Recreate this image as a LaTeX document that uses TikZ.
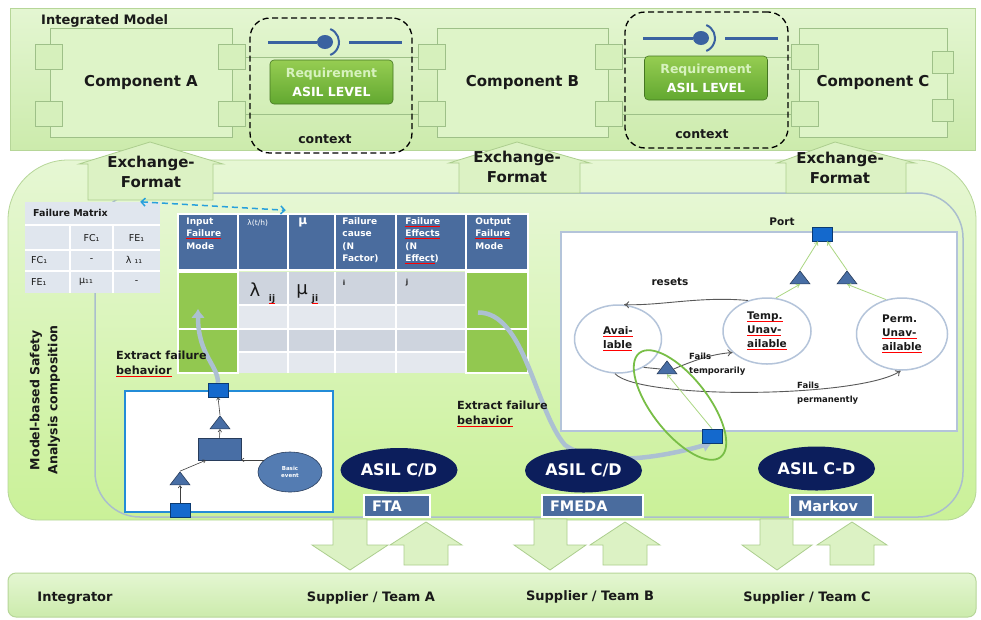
\documentclass[tikz,border=0pt]{standalone}
\usepackage{fontspec}
\setmainfont{DejaVu Sans}
\usetikzlibrary{shapes.geometric,arrows.meta}
\definecolor{txt}{RGB}{25,25,25}
\definecolor{bandA}{RGB}{228,246,210}
\definecolor{bandB}{RGB}{204,235,172}
\definecolor{bandline}{RGB}{182,214,152}
\definecolor{compc}{RGB}{222,244,200}
\definecolor{portc}{RGB}{214,240,188}
\definecolor{portl}{RGB}{158,192,136}
\definecolor{midA}{RGB}{230,247,212}
\definecolor{midB}{RGB}{202,241,152}
\definecolor{inl}{RGB}{170,190,205}
\definecolor{lolli}{RGB}{58,98,160}
\definecolor{reqA}{RGB}{150,205,82}
\definecolor{reqB}{RGB}{98,168,48}
\definecolor{reqT}{RGB}{215,242,190}
\definecolor{xarrc}{RGB}{220,242,196}
\definecolor{xarl}{RGB}{172,206,142}
\definecolor{fmc}{RGB}{224,230,238}
\definecolor{hdr}{RGB}{74,108,158}
\definecolor{cellD}{RGB}{206,212,222}
\definecolor{cellL}{RGB}{228,232,238}
\definecolor{cellG}{RGB}{146,200,80}
\definecolor{dashc}{RGB}{40,160,220}
\definecolor{navy}{RGB}{12,30,92}
\definecolor{sqb}{RGB}{20,105,205}
\definecolor{trifill}{RGB}{72,110,165}
\definecolor{bev}{RGB}{84,124,178}
\definecolor{ftab}{RGB}{35,140,215}
\definecolor{mkl}{RGB}{180,196,218}
\definecolor{lgrn}{RGB}{170,215,130}
\definecolor{ogrn}{RGB}{120,190,70}
\definecolor{thkc}{RGB}{172,192,210}
\newcommand\fsz[2]{\fontsize{#1}{#2}\selectfont}
\newcommand\sqw[1]{\setbox0\hbox{#1}\rlap{\textcolor{red}{\rule[-2.2pt]{\wd0}{.6pt}}}\box0}
\begin{document}
\begin{tikzpicture}[x=1pt,y=-1pt,every node/.style={inner sep=0pt,text=txt},
band/.style={top color=bandA,bottom color=bandB,draw=bandline,line width=1},
comp/.style={fill=compc,draw=portl,line width=.8,font=\bfseries\fsz{15}{18}},
port/.style={fill=portc,draw=portl,line width=.8,minimum width=27,minimum height=25},
pline/.style={draw=portl,line width=.8},
ctx/.style={draw=black,line width=1.3,dash pattern=on 6pt off 3.5pt,rounded corners=20},
lol/.style={draw=lolli,line width=3},
req/.style={rounded corners=4,top color=reqA,bottom color=reqB,draw=reqB!70!black,line width=.6,minimum width=123,minimum height=44,align=center,text=white,font=\bfseries\fsz{12.5}{19}},
xarr/.style={fill=xarrc,draw=xarl,line width=.8},
xt/.style={align=center,font=\bfseries\fsz{15}{20}},
fmt/.style={font=\fsz{9.5}{11}},
dsh/.style={draw=dashc,line width=1.5,dash pattern=on 6pt off 4pt,{Straight Barb[length=4pt,width=8pt]}-{Straight Barb[length=4pt,width=8pt]}},
hd/.style={fill=hdr,draw=white,line width=1.5,minimum height=56},
ht/.style={anchor=north west,align=left,text=white,font=\bfseries\fsz{9}{12.5}},
gc/.style={fill=cellG,draw=white,line width=1.5},
tri/.style={isosceles triangle,isosceles triangle stretches,shape border rotate=90,minimum width=20,minimum height=13,fill=trifill,draw=trifill!55!black,line width=.6},
sq/.style={fill=sqb,draw=sqb!55!black,line width=.6,minimum width=20,minimum height=14},
fa/.style={draw=black!75,line width=.6,-{To[length=3pt,width=4pt]}},
st/.style={ellipse,draw=mkl,line width=1.5,fill=white,align=left,font=\bfseries\fsz{10.5}{14}},
garr/.style={draw=lgrn,line width=.8,-{To[length=4pt,width=5pt]}},
darr/.style={draw=black!65,line width=.9,-{To[length=5pt,width=7pt]}},
mk/.style={font=\bfseries\fsz{10.5}{14}},
sm/.style={anchor=west,align=left,font=\bfseries\fsz{8.5}{14}},
grayarr/.style={draw=thkc,line width=4.5,-{Latex[length=9pt,width=14pt]}},
asil/.style={ellipse,fill=navy,text=white,minimum width=117,minimum height=44,font=\bfseries\fsz{16}{18}},
meth/.style={fill=hdr,draw=white,line width=1.5,minimum height=22,text=white,align=left,font=\bfseries\fsz{14.5}{16}},
bt/.style={font=\bfseries\fsz{13}{15}},
ext/.style={anchor=north west,align=left,font=\bfseries\fsz{11.2}{15}}]
\useasboundingbox(0,0)rectangle(981,619);
\fill[white](0,0)rectangle(981,619);
\draw[band,rounded corners=8](8,573)rectangle(976,617);
\path[top color=midA,bottom color=midB,draw=bandline,line width=.8](8,300)[rounded corners=60]--(8,160)--(976,160)--(976,400)[rounded corners=30]--(976,520)--(8,520)--cycle;
\path[top color=midA,bottom color=midB,draw=inl,line width=1.5,rounded corners=45](95,193)rectangle(963,517);
\draw[band](10,8)rectangle(975,150);
\node[anchor=west,font=\bfseries\fsz{13}{15}](im)at(41,21){Integrated Model};
\node[comp,minimum width=182,minimum height=109](compA)at(141,82.5){Component A};
\node[comp,minimum width=171,minimum height=109](compB)at(522.5,82.5){Component B};
\node[comp,minimum width=148,minimum height=109](compC)at(873,82.5){Component C};
\node[port](pa1)at(49,57){};
\node[port](pa2)at(49,114){};
\node[port](pa3)at(232,57){};
\node[port](pa4)at(232,114){};
\node[port](pb1)at(432,57){};
\node[port](pb2)at(432,114){};
\node[port](pb3)at(609,57){};
\node[port](pb4)at(609,114){};
\node[port](pc1)at(805,57){};
\node[port](pc2)at(805,114){};
\node[port,minimum width=21,minimum height=22](pc3)at(943,62){};
\node[port,minimum width=21,minimum height=22](pc4)at(943,110){};
\draw[pline](pa3)--(pb1)(pa4)--(pb2)(pb3)--(pc1)(pb4)--(pc2);
\node[ctx,minimum width=162,minimum height=135](ctx1)at(331,85.5){};
\node[ctx,minimum width=163,minimum height=136](ctx2)at(706.5,80){};
\node[font=\bfseries\fsz{12.5}{14}](cx1)at(325,139){context};
\node[font=\bfseries\fsz{12.5}{14}](cx2)at(702,134){context};
\node[ellipse,fill=lolli,minimum width=16,minimum height=14](lc1)at(325,42){};
\draw[lol](268,42)--(lc1);
\draw[lol]([xshift=16]lc1.east)--(402,42);
\draw[lol,line width=2](lc1.center)++(-68:14)arc[start angle=-68,end angle=68,radius=14];
\node[ellipse,fill=lolli,minimum width=16,minimum height=14](lc2)at(701,38){};
\draw[lol](643,38)--(lc2);
\draw[lol]([xshift=16]lc2.east)--(778,38);
\draw[lol,line width=2](lc2.center)++(-68:14)arc[start angle=-68,end angle=68,radius=14];
\node[req](rq1)at(331.5,82){\textcolor{reqT}{Requirement}\\ASIL LEVEL};
\node[req](rq2)at(706,78){\textcolor{reqT}{Requirement}\\ASIL LEVEL};
\draw[xarr](150,142)--(223,164)--(213,164)--(213,200)--(88,200)--(88,164)--(79,164)--cycle;
\node[xt](ex1)at(151,172){Exchange-\\Format};
\draw[xarr](517,142)--(590,163)--(580,163)--(580,193)--(459,193)--(459,163)--(449,163)--cycle;
\node[xt](ex2)at(517,167){Exchange-\\Format};
\draw[xarr](835,142)--(915,163)--(906,163)--(906,193)--(786,193)--(786,163)--(777,163)--cycle;
\node[xt](ex3)at(840,168){Exchange-\\Format};
\node[fill=fmc,minimum width=135,minimum height=91](fm)at(92.5,247.5){};
\draw[white,line width=1.5](25,225)--(160,225)(25,250)--(160,250)(25,271)--(160,271)(70,225)--(70,293)(113,225)--(113,293);
\node[anchor=west,font=\bfseries\fsz{9.5}{11}](fmh)at(33,213){Failure Matrix};
\node[fmt](fc0)at(91.5,238){FC₁};
\node[fmt](fe0)at(136.5,238){FE₁};
\node[fmt,anchor=west](fc1)at(31,260){FC₁};
\node[fmt](d1)at(91.5,260){-};
\node[fmt](l11)at(134,260){λ ₁₁};
\node[fmt,anchor=west](fe1)at(31,282){FE₁};
\node[fmt](m11)at(86,282){μ₁₁};
\node[fmt](d2)at(136.5,282){-};
\node[hd,minimum width=60](h1)at(208,242){};
\node[hd,minimum width=50](h2)at(263,242){};
\node[hd,minimum width=47](h3)at(311.5,242){};
\node[hd,minimum width=61](h4)at(365.5,242){};
\node[hd,minimum width=70](h5)at(431,242){};
\node[hd,minimum width=62](h6)at(497,242){};
\node[ht](t1)at([xshift=9,yshift=-4]h1.north west){Input\\\sqw{Failure}\\Mode};
\node[ht,font=\fsz{7.5}{9}](t2)at([xshift=10,yshift=-6]h2.north west){λ(t/h)};
\node[ht,font=\bfseries\fsz{12}{14}](t3)at([xshift=11,yshift=-4]h3.north west){μ};
\node[ht](t4)at([xshift=8,yshift=-4]h4.north west){Failure\\cause\\(N\\Factor)};
\node[ht](t5)at([xshift=10,yshift=-4]h5.north west){\sqw{Failure}\\\sqw{Effects}\\(N\\\sqw{Effect})};
\node[ht](t6)at([xshift=10,yshift=-4]h6.north west){Output\\\sqw{Failure}\\Mode};
\draw[dsh]([xshift=-20]fm.north east)--([xshift=-3,yshift=3]h2.north east);
\fill[cellD](238,272)rectangle(466,305);
\fill[cellL](238,305)rectangle(466,329);
\fill[cellD](238,329)rectangle(466,352);
\fill[cellL](238,352)rectangle(466,373);
\draw[white,line width=1.5](288,272)--(288,373)(335,272)--(335,373)(396,272)--(396,373)(238,305)--(466,305)(238,329)--(466,329)(238,352)--(466,352);
\node[gc,minimum width=60,minimum height=57](in1)at(208,300.5){};
\node[gc,minimum width=60,minimum height=44](in2)at(208,351){};
\node[gc,minimum width=62,minimum height=57](out1)at(497,300.5){};
\node[gc,minimum width=62,minimum height=44](out2)at(497,351){};
\node[font=\fsz{18}{18}](lam)at(255,290){λ};
\node[font=\bfseries\fsz{9}{9}](lamij)at(272,299){\sqw{ij}};
\node[font=\fsz{18}{18}](mu)at(302,291){μ};
\node[font=\bfseries\fsz{9}{9}](muji)at(315,299){\sqw{ji}};
\node[font=\bfseries\fsz{7}{7}](ci)at(344,283){i};
\node[font=\bfseries\fsz{7}{7}](cj)at(407,283){j};
\draw[fill=white,draw=ftab,line width=1.8](125,391)rectangle(333,512);
\node[sq](ftop)at(218,390){};
\node[tri](ft1)at(220,424){};
\node[fill=trifill,draw=trifill!55!black,line width=.6,minimum width=43,minimum height=22](gate)at(219.5,449){};
\node[ellipse,fill=bev,draw=trifill!55!black,line width=.6,minimum width=64,minimum height=40,align=center,text=white,font=\bfseries\fsz{5.5}{7}](bev)at(290,472){Basic\\event};
\node[tri](ft2)at(180,480){};
\node[sq](fbot)at(180,510){};
\draw[fa](fbot.north)--(ft2.south);
\draw[fa](ft2.apex)--([xshift=8]gate.south west);
\draw[fa](bev.155)--(bev.155-|gate.east);
\draw[fa](gate.north)--(ft1.south);
\draw[fa](ft1.apex)--(ftop.south);
\draw[fill=white,draw=mkl,line width=1.5](561,232)rectangle(957,431);
\node[sq](mport)at(822,234){};
\node[mk](portl)at(782,222){Port};
\node[tri](mt1)at(800,279){};
\node[tri](mt2)at(847,279){};
\node[st,minimum width=87,minimum height=68](avl)at(618,339){\sqw{Avai-}\\\sqw{lable}};
\node[st,minimum width=88,minimum height=66](tmp)at(767,331){\sqw{Temp.}\\\sqw{Unav-}\\\sqw{ailable}};
\node[st,minimum width=91,minimum height=72](prm)at(902,334){Perm.\\\sqw{Unav-}\\\sqw{ailable}};
\node[tri](mtf)at(667,369){};
\draw[garr](mt1.apex)--([xshift=-4]mport.south);
\draw[garr](mt2.apex)--([xshift=5]mport.south);
\draw[garr](tmp.75)--(mt1.south);
\draw[garr](prm.115)--(mt2.south);
\draw[darr](tmp.122)..controls(700,296)and(660,306)..(avl.80);
\node[mk](rs)at(670,282){resets};
\draw[black!65,line width=.9](avl.-48)--(mtf.west);
\draw[darr](mtf.east)..controls(695,360)and(712,354)..(tmp.212);
\node[sm](ftl)at(689,364){Fails\\temporarily};
\draw[darr](avl.-95)..controls(640,400)and(860,398)..(prm.-92);
\node[sm](fpl)at(797,393){Fails\\permanently};
\draw[grayarr](ftop.north)..controls(218,365)and(198,355)..([xshift=-10,yshift=21]in1.south);
\draw[grayarr]([xshift=-19,yshift=-12]out1.center)..controls(525,312)and(535,410)..(565,445)..controls(600,470)and(670,455)..(712,443);
\draw[ogrn,line width=1.8,rotate around={-52:(680,405)}](680,405)ellipse[x radius=66,y radius=28];
\node[sq](mbot)at(712,436){};
\draw[garr](mbot.north)--(mtf.south);
\node[asil](as1)at(399,470){ASIL C/D};
\node[meth,minimum width=66,text width=50](fta)at(397,506){FTA};
\node[asil](as2)at(583.5,470.5){ASIL C/D};
\node[meth,minimum width=101,text width=85](fmeda)at(592.5,506){FMEDA};
\node[asil](as3)at(816.5,468.5){ASIL C-D};
\node[meth,minimum width=83,text width=67](mkv)at(831.5,506){Markov};
\draw[xarr](333,519)--(367,519)--(367,545)--(388,545)--(350,570)--(312,545)--(333,545)--cycle;
\draw[xarr](426,522)--(462,545)--(448,545)--(448,565)--(404,565)--(404,545)--(390,545)--cycle;
\draw[xarr](534,519)--(567,519)--(567,545)--(586,545)--(550,570)--(514,545)--(534,545)--cycle;
\draw[xarr](625,522)--(660,545)--(647,545)--(647,565)--(603,565)--(603,545)--(590,545)--cycle;
\draw[xarr](760,519)--(793,519)--(793,545)--(812,545)--(777,570)--(742,545)--(760,545)--cycle;
\draw[xarr](852,522)--(887,545)--(874,545)--(874,565)--(830,565)--(830,545)--(817,545)--cycle;
\node[bt](intg)at(75,598){Integrator};
\node[bt](sa)at(371,598){Supplier / Team A};
\node[bt](sb)at(590,597){Supplier / Team B};
\node[bt](sc)at(807,598){Supplier / Team C};
\node[ext](ext1)at(116,351){Extract failure\\\sqw{behavior}};
\node[ext](ext2)at(457,401){Extract failure\\\sqw{behavior}};
\node[rotate=90,align=center,font=\bfseries\fsz{12.5}{18}](mbs)at(45,400){Model-based Safety\\Analysis composition};
\end{tikzpicture}
\end{document}
